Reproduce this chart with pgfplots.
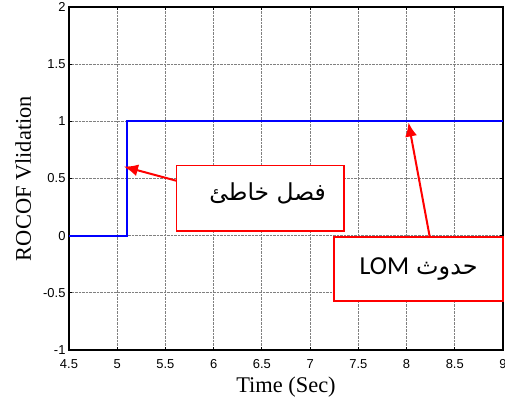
\documentclass[border=0pt]{standalone}
\usepackage{fontspec}
\setmainfont{Liberation Serif}
\newfontfamily\arialf{Liberation Sans}
\newfontfamily\arabicfont[Script=Arabic]{DejaVu Sans}
\newfontfamily\calibrif{Carlito}
\TeXXeTstate=1
\usepackage{pgfplots}
\pgfplotsset{compat=1.18}
\usetikzlibrary{arrows.meta}
\begin{document}
\begin{tikzpicture}
\useasboundingbox (-69bp,-48bp) rectangle (436bp,350bp);
\begin{axis}[
  at={(0,0)}, anchor=south west,
  width=434bp, height=343bp, scale only axis,
  xmin=4.5, xmax=9, ymin=-1, ymax=2,
  xtick={4.5,5,...,9}, ytick={-1,-0.5,...,2},
  xticklabels={4.5,5,5.5,6,6.5,7,7.5,8,8.5,9},
  yticklabels={-1,-0.5,0,0.5,1,1.5,2},
  tick align=inside, tick pos=both, major tick length=3bp,
  grid=major,
  major grid style={gray, densely dotted, line width=0.8bp},
  axis line style={black, line width=1.2bp},
  tick style={black, line width=0.8bp},
  ticklabel style={font=\arialf\fontsize{13}{15}\selectfont},
  /pgf/number format/assume math mode=true,
  xticklabel style={yshift=-6bp},
  xlabel={Time (Sec)},
  ylabel={ROCOF Vlidation},
  label style={font=\fontsize{22.5}{25}\selectfont},
  xlabel style={yshift=-1bp},
  ylabel style={yshift=5bp},
  clip=false,
]
\addplot[blue, line width=2bp] coordinates {(4.5,0) (5.1,0) (5.1,1) (9,1)};
\draw[red, line width=1.8bp, fill=white] (axis cs:5.615,0.044) rectangle (axis cs:7.355,0.613);
\node[font=\arabicfont\fontsize{23.5}{28}\selectfont] at (axis cs:6.56,0.37) {\beginR فصل خاطئ\endR};
\draw[red, line width=2bp, -{Latex[length=14bp,width=12bp]}] (axis cs:5.615,0.48) -- (axis cs:5.07,0.604);
\draw[red, line width=1.8bp, fill=white] (axis cs:7.25,-0.569) rectangle (axis cs:9.0,-0.009);
\node at (axis cs:8.125,-0.29) {\beginR{\arabicfont\fontsize{24}{28}\selectfont حدوث}\hspace{7bp}\beginL{\calibrif\fontsize{26}{30}\selectfont LOM}\endL\endR};
\draw[red, line width=2bp, -{Latex[length=14bp,width=12bp]}] (axis cs:8.24,-0.009) -- (axis cs:8.02,0.99);
\end{axis}
\end{tikzpicture}
\end{document}
